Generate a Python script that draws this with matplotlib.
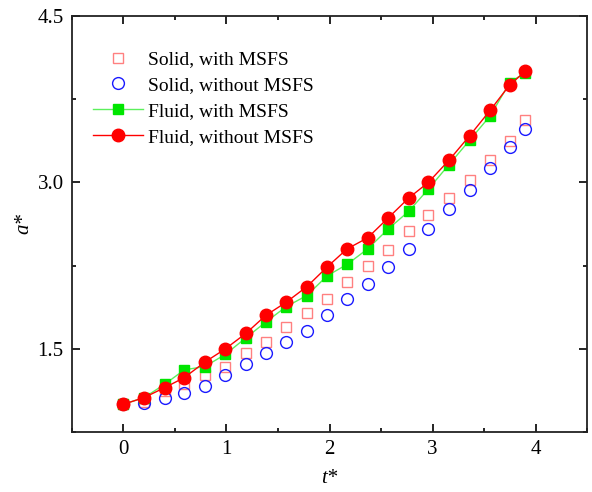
import matplotlib
matplotlib.use('Agg')
import matplotlib.pyplot as plt
from matplotlib.ticker import MultipleLocator

plt.rcParams['font.family'] = ['Liberation Serif', 'DejaVu Serif']

# data
t = [0, 0.2, 0.4, 0.59, 0.79, 0.99, 1.19, 1.38, 1.58, 1.78, 1.98,
     2.17, 2.37, 2.57, 2.77, 2.96, 3.16, 3.36, 3.56, 3.75, 3.9]
solid_msfs = [1.00, 1.02, 1.12, 1.18, 1.26, 1.34, 1.46, 1.56, 1.70, 1.82, 1.95,
              2.10, 2.25, 2.39, 2.56, 2.71, 2.86, 3.02, 3.20, 3.37, 3.56]
solid_nomsfs = [1.00, 1.01, 1.06, 1.10, 1.16, 1.26, 1.36, 1.46, 1.56, 1.66, 1.80,
                1.95, 2.08, 2.24, 2.40, 2.58, 2.76, 2.93, 3.13, 3.32, 3.48]
fluid_msfs = [1.00, 1.06, 1.18, 1.31, 1.34, 1.45, 1.60, 1.74, 1.88, 1.98, 2.16,
              2.26, 2.40, 2.58, 2.74, 2.94, 3.16, 3.38, 3.60, 3.90, 3.99]
fluid_nomsfs = [1.00, 1.06, 1.15, 1.24, 1.38, 1.50, 1.64, 1.80, 1.92, 2.06, 2.24,
                2.40, 2.50, 2.68, 2.86, 3.00, 3.20, 3.42, 3.65, 3.88, 4.00]

fig = plt.figure(figsize=(5.92, 4.92), dpi=100)
ax = fig.add_axes([0.1216, 0.122, 0.87, 0.8455])

ax.plot(t, solid_msfs, ls='none', marker='s', ms=7, mfc='none', mec='#ff8080',
        mew=1.0, label='Solid, with MSFS')
ax.plot(t, solid_nomsfs, ls='none', marker='o', ms=8.5, mfc='none', mec='#1a1aff',
        mew=1.0, label='Solid, without MSFS')
ax.plot(t, fluid_msfs, '-', color='#5cf05c', lw=1.0, marker='s', ms=6.5,
        mfc='#00e600', mec='#00e600', label='Fluid, with MSFS')
ax.plot(t, fluid_nomsfs, '-', color='#ff0000', lw=1.0, marker='o', ms=9,
        mfc='#ff0000', mec='#ff0000', label='Fluid, without MSFS')

ax.set_xlim(-0.5, 4.5)
ax.set_ylim(0.75, 4.5)
ax.set_xticks([0, 1, 2, 3, 4])
ax.set_yticks([1.5, 3.0, 4.5])
ax.set_yticklabels(['1.5', '3.0', '4.5'])
ax.xaxis.set_minor_locator(MultipleLocator(0.5))
ax.yaxis.set_minor_locator(MultipleLocator(0.75))
ax.tick_params(which='both', direction='in', top=True, right=True,
               labelsize=15, width=1.2)
ax.tick_params(which='major', length=6, pad=6)
ax.tick_params(which='minor', length=3)
for s in ax.spines.values():
    s.set_linewidth(1.3)
    s.set_color('#222222')

ax.set_xlabel('t*', fontsize=15, fontstyle='italic', labelpad=7)
ax.set_ylabel('a*', fontsize=15, fontstyle='italic', labelpad=3)

ax.legend(loc='upper left', bbox_to_anchor=(0.025, 0.935), frameon=False,
          fontsize=14, handlelength=2.6, handletextpad=0.25,
          labelspacing=0.42, borderaxespad=0)

fig.savefig('out.png', dpi=100)
